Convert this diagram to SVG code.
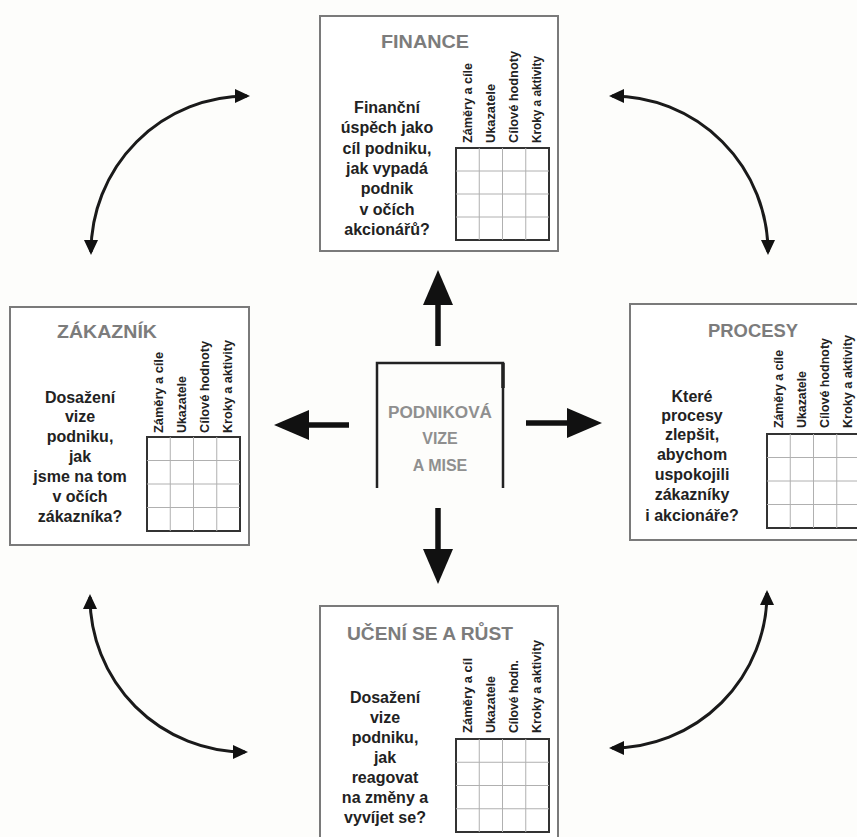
<svg xmlns="http://www.w3.org/2000/svg" width="857" height="837" viewBox="0 0 857 837">
<style>
.bg{fill:#fdfdfb}
.box{fill:#ffffff;stroke:#7a7a7a;stroke-width:2}
.grid{fill:none;stroke:#333;stroke-width:2}
.gl{stroke:#b0b0b0;stroke-width:1}
.title{font-family:"Liberation Sans",Arial,sans-serif;font-size:19px;font-weight:bold;fill:#7c7c7c;text-anchor:middle}
.body{font-family:"Liberation Sans",Arial,sans-serif;font-size:16px;font-weight:bold;fill:#222;text-anchor:middle}
.col{font-family:"Liberation Sans",Arial,sans-serif;font-size:12px;font-weight:bold;fill:#222}
.ctr{font-family:"Liberation Sans",Arial,sans-serif;font-size:16px;font-weight:bold;fill:#8f8f8f;text-anchor:middle}
.curve{fill:none;stroke:#1a1a1a;stroke-width:3;marker-start:url(#sh);marker-end:url(#sh)}
.shaft{stroke:#111;stroke-width:5.5;marker-end:url(#big)}
.cl{fill:none;stroke:#222;stroke-width:2.5}
</style>
<defs>
<marker id="sh" markerUnits="userSpaceOnUse" markerWidth="16" markerHeight="14" refX="12" refY="7" orient="auto-start-reverse"><path d="M0,0 L15,7 L0,14 z" fill="#111"/></marker>
<marker id="big" markerUnits="userSpaceOnUse" markerWidth="36" markerHeight="30" refX="1" refY="15" orient="auto"><path d="M0,0 L35,15 L0,30 z" fill="#111"/></marker>
</defs>
<rect class="bg" x="0" y="0" width="857" height="837"/>

<g id="connectors">
<path class="curve" d="M 91 252 A 156 156 0 0 1 247 96"/>
<path class="curve" d="M 612 96 A 156 156 0 0 1 768 252"/>
<path class="curve" d="M 90 597 A 155 155 0 0 0 245 752"/>
<path class="curve" d="M 767 593 A 155 155 0 0 1 612 748"/>
<line class="shaft" x1="438" y1="346" x2="438" y2="304"/>
<line class="shaft" x1="438" y1="508" x2="438" y2="550"/>
<line class="shaft" x1="349" y1="425" x2="308" y2="425"/>
<line class="shaft" x1="526" y1="423" x2="568" y2="423"/>
</g>

<g id="finance">
<rect class="box" x="320" y="16" width="238" height="235"/>
<text class="title" x="425" y="48" textLength="88" lengthAdjust="spacingAndGlyphs">FINANCE</text>
<text class="body" x="387"><tspan x="387" y="113">Finanční</tspan><tspan x="387" y="133">úspěch jako</tspan><tspan x="387" y="154">cíl podniku,</tspan><tspan x="387" y="174">jak vypadá</tspan><tspan x="387" y="194">podnik</tspan><tspan x="387" y="215">v očích</tspan><tspan x="387" y="235">akcionářů?</tspan></text>
<text class="col" transform="translate(471.6 143) rotate(-90)" textLength="80" lengthAdjust="spacingAndGlyphs">Záměry a cíle</text>
<text class="col" transform="translate(494.9 143) rotate(-90)" textLength="59" lengthAdjust="spacingAndGlyphs">Ukazatele</text>
<text class="col" transform="translate(518.1 143) rotate(-90)" textLength="92" lengthAdjust="spacingAndGlyphs">Cílové hodnoty</text>
<text class="col" transform="translate(541.4 143) rotate(-90)" textLength="87" lengthAdjust="spacingAndGlyphs">Kroky a aktivity</text>
<rect class="grid" x="456" y="148" width="93" height="92"/>
<path class="gl" d="M479.25 148V240M502.5 148V240M525.75 148V240M456 171H549M456 194H549M456 217H549"/>
</g>

<g id="zakaznik">
<rect class="box" x="10" y="307" width="239" height="238"/>
<text class="title" x="107" y="338" textLength="100" lengthAdjust="spacingAndGlyphs">ZÁKAZNÍK</text>
<text class="body" x="80"><tspan x="80" y="403">Dosažení</tspan><tspan x="80" y="422">vize</tspan><tspan x="80" y="442">podniku,</tspan><tspan x="80" y="462">jak</tspan><tspan x="80" y="482">jsme na tom</tspan><tspan x="80" y="502">v očích</tspan><tspan x="80" y="522">zákazníka?</tspan></text>
<text class="col" transform="translate(162.6 433) rotate(-90)" textLength="81" lengthAdjust="spacingAndGlyphs">Záměry a cíle</text>
<text class="col" transform="translate(185.9 433) rotate(-90)" textLength="57" lengthAdjust="spacingAndGlyphs">Ukazatele</text>
<text class="col" transform="translate(209.1 433) rotate(-90)" textLength="92" lengthAdjust="spacingAndGlyphs">Cílové hodnoty</text>
<text class="col" transform="translate(232.4 433) rotate(-90)" textLength="93" lengthAdjust="spacingAndGlyphs">Kroky a aktivity</text>
<rect class="grid" x="147" y="437" width="93" height="94"/>
<path class="gl" d="M170.25 437V531M193.5 437V531M216.75 437V531M147 460.5H240M147 484H240M147 507.5H240"/>
</g>

<g id="procesy">
<rect class="box" x="630" y="304" width="250" height="236"/>
<text class="title" x="753" y="337" textLength="90" lengthAdjust="spacingAndGlyphs">PROCESY</text>
<text class="body" x="692"><tspan x="692" y="402">Které</tspan><tspan x="692" y="421">procesy</tspan><tspan x="692" y="440">zlepšit,</tspan><tspan x="692" y="460">abychom</tspan><tspan x="692" y="480">uspokojili</tspan><tspan x="692" y="500">zákazníky</tspan><tspan x="692" y="521">i akcionáře?</tspan></text>
<text class="col" transform="translate(782.6 428) rotate(-90)" textLength="78" lengthAdjust="spacingAndGlyphs">Záměry a cíle</text>
<text class="col" transform="translate(805.9 428) rotate(-90)" textLength="57" lengthAdjust="spacingAndGlyphs">Ukazatele</text>
<text class="col" transform="translate(829.1 428) rotate(-90)" textLength="90" lengthAdjust="spacingAndGlyphs">Cílové hodnoty</text>
<text class="col" transform="translate(852.4 428) rotate(-90)" textLength="93" lengthAdjust="spacingAndGlyphs">Kroky a aktivity</text>
<rect class="grid" x="767" y="434" width="93" height="94"/>
<path class="gl" d="M790.25 434V528M813.5 434V528M836.75 434V528M767 457.5H860M767 481H860M767 504.5H860"/>
</g>

<g id="uceni">
<rect class="box" x="320" y="606" width="238" height="250"/>
<text class="title" x="430" y="640" textLength="166" lengthAdjust="spacingAndGlyphs">UČENÍ SE A RŮST</text>
<text class="body" x="385"><tspan x="385" y="703">Dosažení</tspan><tspan x="385" y="723">vize</tspan><tspan x="385" y="743">podniku,</tspan><tspan x="385" y="763">jak</tspan><tspan x="385" y="783">reagovat</tspan><tspan x="385" y="803">na změny a</tspan><tspan x="385" y="823">vyvíjet se?</tspan></text>
<text class="col" transform="translate(471.6 733) rotate(-90)" textLength="75" lengthAdjust="spacingAndGlyphs">Záměry a cíl</text>
<text class="col" transform="translate(494.9 733) rotate(-90)" textLength="57" lengthAdjust="spacingAndGlyphs">Ukazatele</text>
<text class="col" transform="translate(518.1 733) rotate(-90)" textLength="73" lengthAdjust="spacingAndGlyphs">Cílové hodn.</text>
<text class="col" transform="translate(541.4 733) rotate(-90)" textLength="93" lengthAdjust="spacingAndGlyphs">Kroky a aktivity</text>
<rect class="grid" x="456" y="739" width="93" height="93"/>
<path class="gl" d="M479.25 739V832M502.5 739V832M525.75 739V832M456 762.25H549M456 785.5H549M456 808.75H549"/>
</g>

<g id="vize">
<path class="cl" d="M377 488V363H503V488"/>
<line x1="503" y1="363" x2="503" y2="388" stroke="#222" stroke-width="3.5"/>
<text class="ctr" x="440" y="418" textLength="104" lengthAdjust="spacingAndGlyphs">PODNIKOVÁ</text>
<text class="ctr" x="440" y="444">VIZE</text>
<text class="ctr" x="440" y="471">A MISE</text>
</g>
</svg>
